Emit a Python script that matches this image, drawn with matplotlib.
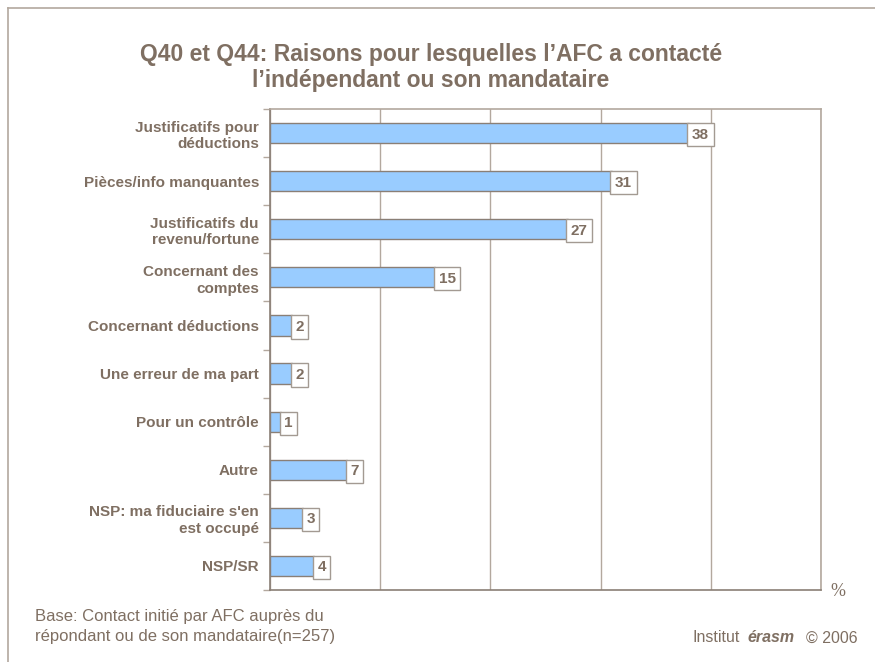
import matplotlib.pyplot as plt
from matplotlib.lines import Line2D

categories = ["Justificatifs pour\ndéductions", "Pièces/info manquantes",
              "Justificatifs du\nrevenu/fortune", "Concernant des\ncomptes",
              "Concernant déductions", "Une erreur de ma part",
              "Pour un contrôle", "Autre",
              "NSP: ma fiduciaire s'en\nest occupé", "NSP/SR"]
values = [38, 31, 27, 15, 2, 2, 1, 7, 3, 4]
xticks = [0, 10, 20, 30, 40, 50]

txt = "#7f6f62"
grid = "#b3a89e"
plt.rcParams['font.family'] = ['Liberation Sans', 'DejaVu Sans']

fig = plt.figure(figsize=(8.75, 6.62), dpi=100)
W, H = 875, 662
ax = fig.add_axes([270 / W, 1 - 590 / H, (821 - 270) / W, (590 - 109) / H])

y = list(range(len(categories)))
ax.barh(y, values, height=0.42, color="#99ccff", edgecolor="#8a7f76", linewidth=1, zorder=3)
for yi, v in zip(y, values):
    ax.text(v + 0.3, yi, str(v), va="center_baseline", ha="left", fontsize=11,
            fontweight="bold", color=txt, zorder=4,
            bbox=dict(boxstyle="square,pad=0.3", fc="white", ec="#a39a92", lw=1))

ax.set_xlim(0, 50)
ax.set_ylim(len(categories) - 0.5, -0.5)
ax.set_xticks(xticks)
ax.xaxis.grid(True, color=grid, lw=1, zorder=0)
ax.tick_params(axis="x", length=0, labelbottom=False)
ax.set_yticks([i + 0.5 for i in range(-1, len(categories))], minor=False)
ax.set_yticklabels([])
ax.tick_params(axis="y", length=5, color=grid, width=1, direction="out")
ax.set_yticks(y, minor=True)
ax.set_yticklabels(categories, minor=True, fontsize=11, fontweight="bold", color=txt,
                   linespacing=1.25)
ax.tick_params(axis="y", which="minor", length=0, pad=8)
for s in ["top", "right"]:
    ax.spines[s].set_color(grid)
for s in ["left", "bottom"]:
    ax.spines[s].set_color("#8a7f76")
for s in ax.spines.values():
    s.set_linewidth(1.2)

fig.text(431 / W, 1 - 55 / H, "Q40 et Q44: Raisons pour lesquelles l\u2019AFC a contacté",
         ha="center", va="center", fontsize=16.5, fontweight="bold", color=txt)
fig.text(431 / W, 1 - 81 / H, "l\u2019indépendant ou son mandataire",
         ha="center", va="center", fontsize=16.5, fontweight="bold", color=txt)

fig.text(838 / W, 1 - 592 / H, "%", ha="center", va="center", fontsize=13,
         family="Liberation Serif", color=txt)
fig.text(35 / W, 1 - 617 / H, "Base: Contact initié par AFC auprès du",
         ha="left", va="center", fontsize=12, color=txt)
fig.text(35 / W, 1 - 637 / H, "répondant ou de son mandataire(n=257)",
         ha="left", va="center", fontsize=12, color=txt)
fig.text(692 / W, 1 - 638 / H, "Institut", ha="left", va="center", fontsize=11.5, color=txt)
fig.text(747 / W, 1 - 638 / H, "érasm", ha="left", va="center", fontsize=11.5,
         fontweight="bold", style="italic", color=txt)
fig.text(806 / W, 1 - 638 / H, "\u00a9 2006", ha="left", va="center", fontsize=11.5, color=txt)

# outer frame (left and top)
fig.add_artist(Line2D([8 / W, 8 / W], [0, 1 - 8 / H], color="#b3a89e", lw=1.2))
fig.add_artist(Line2D([8 / W, 1], [1 - 8 / H, 1 - 8 / H], color="#b3a89e", lw=1.2))

fig.savefig("out.png", dpi=100)
